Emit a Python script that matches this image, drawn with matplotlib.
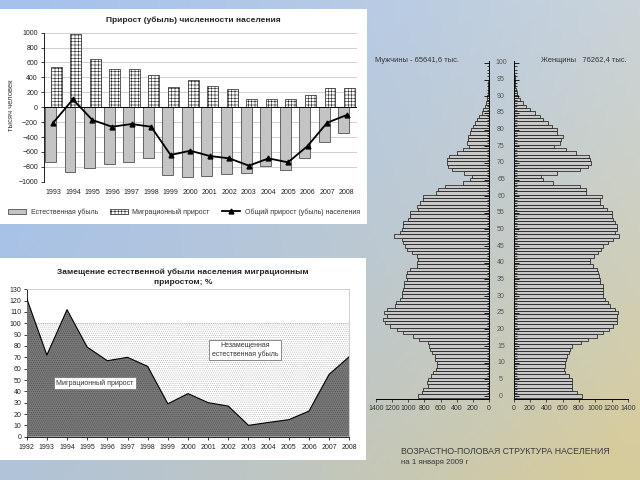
import numpy as np
import matplotlib
matplotlib.use("Agg")
import matplotlib.pyplot as plt
from matplotlib.patches import Rectangle, Patch
from matplotlib.lines import Line2D
from matplotlib import transforms

plt.rcParams['font.family'] = ['Liberation Sans', 'DejaVu Sans']
plt.rcParams['hatch.linewidth'] = 0.4

# ---------------- data ----------------
years1 = ['1993', '1994', '1995', '1996', '1997', '1998', '1999', '2000',
          '2001', '2002', '2003', '2004', '2005', '2006', '2007', '2008']
natural_decline = [-735, -866, -821, -767, -740, -687, -911, -942,
                   -924, -902, -888, -790, -843, -678, -463, -351]
migration_gain = [535, 982, 651, 517, 517, 432, 275, 365,
                  289, 239, 105, 110, 110, 159, 262, 262]
total_change = [-208, 105, -172, -262, -226, -262, -642, -584,
                -655, -687, -785, -687, -740, -521, -208, -105]

years2 = [1992, 1993, 1994, 1995, 1996, 1997, 1998, 1999, 2000,
          2001, 2002, 2003, 2004, 2005, 2006, 2007, 2008]
replacement_pct = [122, 72, 112, 79, 67, 70, 62, 29, 38,
                   30, 27, 10, 12.6, 15, 22.6, 55, 70.6]

ages = list(range(0, 101))
male = [876, 834, 814, 752, 764, 752, 723, 698, 657, 648,
        648, 665, 669, 710, 731, 748, 752, 863, 946, 1061,
        1136, 1227, 1289, 1309, 1260, 1305, 1260, 1165, 1152, 1103,
        1082, 1082, 1061, 1053, 1053, 1020, 1028, 1020, 979, 896,
        896, 876, 896, 958, 1020, 1041, 1061, 1082, 1177, 1103,
        1082, 1068, 1070, 1000, 979, 979, 876, 896, 855, 822,
        814, 657, 628, 545, 318, 235, 215, 310, 463, 504,
        525, 516, 492, 392, 326, 245, 269, 256, 256, 235,
        227, 202, 174, 153, 120, 91, 70, 50, 37, 29,
        21, 17, 12, 8, 8, 6, 5, 4, 3, 3, 2]
female = [834, 781, 711, 711, 720, 720, 683, 630, 622, 630,
          630, 642, 650, 675, 691, 711, 822, 915, 1017, 1099,
          1172, 1213, 1262, 1270, 1262, 1274, 1245, 1180, 1152, 1119,
          1099, 1091, 1090, 1090, 1058, 1058, 1050, 1038, 1017, 976,
          936, 936, 985, 1038, 1070, 1099, 1160, 1221, 1294, 1241,
          1262, 1265, 1241, 1213, 1209, 1201, 1140, 1099, 1058, 1058,
          1086, 887, 887, 813, 487, 365, 332, 528, 813, 915,
          944, 936, 923, 764, 642, 500, 569, 577, 601, 536,
          528, 467, 426, 365, 324, 263, 202, 153, 112, 80,
          59, 39, 31, 22, 20, 16, 13, 10, 8, 6, 5]
pyr_ticks = [0, 200, 400, 600, 800, 1000, 1200, 1400]

W, H = 640, 480
fig = plt.figure(figsize=(6.4, 4.8), dpi=100)


def rect(x0, y0, x1, y1):
    return [x0 / W, 1 - y1 / H, (x1 - x0) / W, (y1 - y0) / H]


# ---------------- background ----------------
bg = fig.add_axes([0, 0, 1, 1])
yy, xx = np.mgrid[0:H, 0:W]
t = np.clip((xx / W) * 0.6 + (yy / H) * 0.45, 0, 1) ** 1.8
blue = np.array([165, 193, 236]) / 255
khaki = np.array([214, 203, 155]) / 255
img = blue[None, None, :] * (1 - t[..., None]) + khaki[None, None, :] * t[..., None]
light = ((1 - yy / H) * (xx / W) * 0.25)[..., None]
img = img * (1 - light) + light
bg.imshow(img, extent=[0, W, H, 0], aspect='auto')
bg.set_xlim(0, W)
bg.set_ylim(H, 0)
bg.axis('off')
bg.add_patch(Rectangle((0, 9), 367, 215, facecolor='white', edgecolor='none'))
bg.add_patch(Rectangle((0, 258), 366, 202, facecolor='white', edgecolor='none'))

# ---------------- chart 1 ----------------
ax1 = fig.add_axes(rect(43.5, 32.7, 356.5, 181.7))
x1 = np.arange(len(years1))
ax1.bar(x1 - 0.145, natural_decline, width=0.56, color='#c4c4c4',
        edgecolor='#333333', linewidth=0.5, zorder=2)
ax1.bar(x1 + 0.145, migration_gain, width=0.56, color='white',
        edgecolor='#222222', linewidth=0.5, hatch='+++++', zorder=2)
ax1.plot(x1, total_change, color='black', lw=1.3, marker='^', ms=3.5, zorder=4)
ax1.axhline(0, color='black', lw=0.7, zorder=3)
ax1.set_xlim(-0.5, len(years1) - 0.5)
ax1.set_ylim(-1000, 1000)
ax1.set_yticks(range(-1000, 1001, 200))
ax1.set_xticks(x1)
ax1.set_xticklabels(years1)
ax1.tick_params(axis='y', labelsize=5, length=2, width=0.6, pad=2, colors='#222222')
ax1.tick_params(axis='x', labelsize=5, length=0, pad=5, colors='#222222')
ax1.grid(axis='y', color='#bdbdbd', lw=0.5, zorder=0)
ax1.set_axisbelow(True)
for s in ['top', 'right', 'bottom']:
    ax1.spines[s].set_visible(False)
ax1.spines['left'].set_linewidth(0.6)
ax1.patch.set_alpha(0)

bg.text(193, 20, 'Прирост (убыль) численности населения', fontsize=6,
        fontweight='bold', ha='center', va='center', color='#222222')
bg.text(12, 105, 'тысяч человек', fontsize=5.5, rotation=90, ha='center',
        va='center', color='#333333')

handles = [Patch(facecolor='#c4c4c4', edgecolor='#333333', linewidth=0.5),
           Patch(facecolor='white', edgecolor='#222222', linewidth=0.5, hatch='+++++'),
           Line2D([], [], color='black', lw=1.3, marker='^', ms=3.5)]
labels = ['Естественная убыль', 'Миграционный прирост',
          'Общий прирост (убыль) населения']
leg = bg.legend(handles, labels, ncol=3, loc='center',
                bbox_to_anchor=(184, 212), bbox_transform=bg.transData,
                frameon=False, fontsize=5, handlelength=2.6, handleheight=0.7,
                columnspacing=1.8, handletextpad=0.6)
for txt in leg.get_texts():
    txt.set_color('#333333')

# ---------------- chart 2 ----------------
ax2 = fig.add_axes(rect(26.7, 289.3, 349.3, 436.7))
hundred = [100] * len(years2)
ax2.fill_between(years2, 0, hundred, facecolor='white', edgecolor='#b0b0b0',
                 hatch='........', linewidth=0, zorder=1)
ax2.plot(years2, hundred, color='#9a9a9a', lw=0.6, ls=':', zorder=2)
ax2.fill_between(years2, 0, replacement_pct, facecolor='#7a7a7a',
                 edgecolor='#4a4a4a', hatch='........', linewidth=0, zorder=3)
ax2.plot(years2, replacement_pct, color='black', lw=0.8, zorder=4)
ax2.set_xlim(1992, 2008)
ax2.set_ylim(0, 130)
ax2.set_yticks(range(0, 131, 10))
ax2.set_xticks(years2)
ax2.tick_params(axis='y', labelsize=5, length=2, width=0.6, pad=2, colors='#222222')
ax2.tick_params(axis='x', labelsize=5, length=2, width=0.6, pad=3, colors='#222222')
for s in ['top', 'right']:
    ax2.spines[s].set_color('#c8c8c8')
    ax2.spines[s].set_linewidth(0.6)
for s in ['left', 'bottom']:
    ax2.spines[s].set_linewidth(0.6)

bg.text(183, 277, 'Замещение естественной убыли населения миграционным\nприростом; %',
        fontsize=6, fontweight='bold', ha='center', va='center',
        color='#222222', linespacing=1.5)
box = dict(boxstyle='square,pad=0.35', facecolor='white', edgecolor='#777777', lw=0.6)
ax2.text(245, 350, 'Незамещенная\nестественная убыль', fontsize=5, ha='center',
         va='center', color='#333333', bbox=box, zorder=10, transform=bg.transData)
ax2.text(95, 383, 'Миграционный прирост', fontsize=5, ha='center',
         va='center', color='#333333', bbox=box, zorder=10, transform=bg.transData)

# ---------------- pyramid ----------------
axL = fig.add_axes(rect(376, 61.3, 489, 399))
axR = fig.add_axes(rect(513.5, 61.3, 628, 399))
axL.barh(ages, male, height=1.0, color='#c8c8c8', edgecolor='#111111', linewidth=0.5)
axR.barh(ages, female, height=1.0, color='#c8c8c8', edgecolor='#111111', linewidth=0.5)
axL.set_xlim(1400, 0)
axR.set_xlim(0, 1400)
for a in (axL, axR):
    a.set_ylim(-0.9, 100.5)
    a.patch.set_alpha(0)
    a.spines['top'].set_visible(False)
    a.set_xticks(pyr_ticks)
    a.tick_params(axis='x', labelsize=5, length=2.5, width=0.6, pad=2, colors='#333333')
    a.set_yticks(range(0, 101, 5))
    a.set_yticks(ages, minor=True)
    a.tick_params(axis='y', which='major', length=3.5, width=0.6, direction='in', labelleft=False, labelright=False)
    a.tick_params(axis='y', which='minor', length=1.8, width=0.5, direction='in')
axL.spines['left'].set_visible(False)
axL.yaxis.tick_right()
axL.tick_params(axis='y', which='both', labelright=False)
axR.spines['right'].set_visible(False)
axR.yaxis.tick_left()
axR.tick_params(axis='y', which='both', labelleft=False)
for a in (axL, axR):
    for s in a.spines.values():
        s.set_linewidth(0.7)

tr = transforms.blended_transform_factory(bg.transData, axR.transData)
for age in range(0, 101, 5):
    bg.text(501, age, str(age), transform=tr, fontsize=5, ha='center',
            va='center', color='#555555')

bg.text(375, 61, 'Мужчины - 65641,6 тыс.', fontsize=5.4, ha='left', va='center', color='#333333')
bg.text(541, 61, 'Женщины   76262,4 тыс.', fontsize=5.4, ha='left', va='center', color='#333333')
bg.text(401, 451, 'ВОЗРАСТНО-ПОЛОВАЯ СТРУКТУРА НАСЕЛЕНИЯ', fontsize=6.3,
        ha='left', va='center', color='#3a3a3a')
bg.text(401, 462, 'на 1 января 2009 г', fontsize=5.7, ha='left', va='center', color='#3a3a3a')

fig.savefig('out.png', dpi=100)
